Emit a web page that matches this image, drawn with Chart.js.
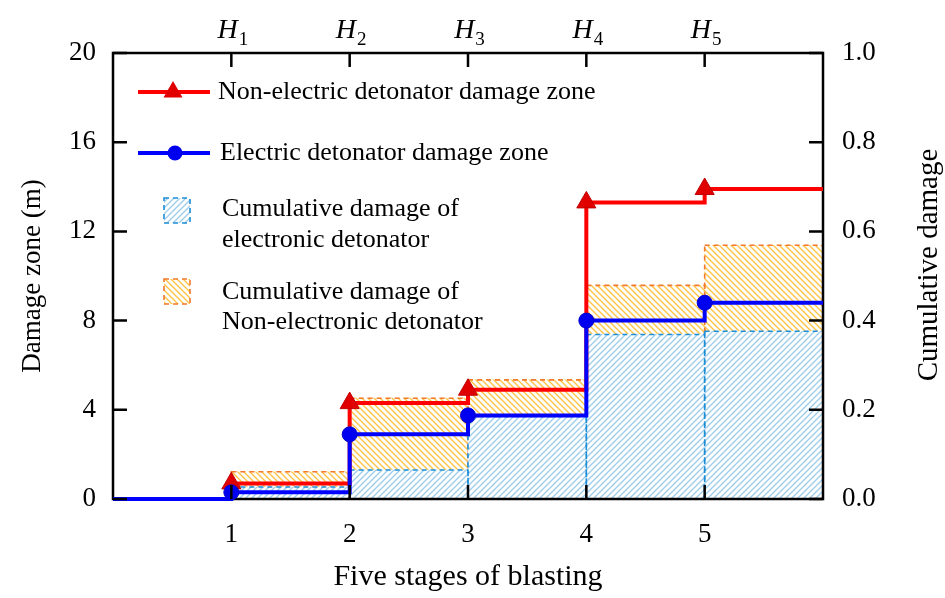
<!DOCTYPE html>
<html>
<head>
<meta charset="utf-8">
<script src="https://cdn.jsdelivr.net/npm/chart.js@4.4.1/dist/chart.umd.min.js"></script>
<style>
  html, body { margin: 0; padding: 0; background: #fff; }
</style>
</head>
<body>
<canvas id="blastChart" width="945" height="598"></canvas>
<script>
// blasting stages and the H labels shown above them
const stages = [1, 2, 3, 4, 5];
const stageNames = ['1', '2', '3', '4', '5'];

// damage zone extent (m), one value per stage
const nonElectricZone = [0.7, 4.3, 4.9, 13.3, 13.9];
const electricZone = [0.3, 2.9, 3.75, 8.0, 8.8];

// cumulative damage per stage (right axis)
const cumElectronic = [0.027, 0.065, 0.185, 0.369, 0.376];
const cumNonElectronic = [0.061, 0.226, 0.267, 0.479, 0.569];

const zoneTicks = [0, 4, 8, 12, 16, 20];
const damageTicks = [0, 0.2, 0.4, 0.6, 0.8, 1.0];

const SERIF = "'Liberation Serif', 'Times New Roman', serif";
Chart.defaults.font.family = SERIF;
Chart.defaults.color = '#000';

const canvas = document.getElementById('blastChart');
const ctx = canvas.getContext('2d');

function hatch(color, rising) {
  const s = 6;
  const tile = document.createElement('canvas');
  tile.width = s; tile.height = s;
  const g = tile.getContext('2d');
  g.fillStyle = '#fff';
  g.fillRect(0, 0, s, s);
  g.strokeStyle = color;
  g.lineWidth = 1.4;
  g.beginPath();
  if (rising) {
    g.moveTo(0, s); g.lineTo(s, 0);
    g.moveTo(-1, 1); g.lineTo(1, -1);
    g.moveTo(s - 1, s + 1); g.lineTo(s + 1, s - 1);
  } else {
    g.moveTo(0, 0); g.lineTo(s, s);
    g.moveTo(-1, s - 1); g.lineTo(1, s + 1);
    g.moveTo(s - 1, -1); g.lineTo(s + 1, 1);
  }
  g.stroke();
  return ctx.createPattern(tile, 'repeat');
}

const blueHatch = hatch('#9fcdea', true);
const orangeHatch = hatch('#ffc445', false);

// step lines: each stage value holds until the next stage, last one runs to the edge
const redPoints = stages.map((s, i) => ({ x: s, y: nonElectricZone[i] }));
redPoints.push({ x: 6, y: nonElectricZone[nonElectricZone.length - 1] });
const bluePoints = [{ x: 0, y: 0 }].concat(stages.map((s, i) => ({ x: s, y: electricZone[i] })));
bluePoints.push({ x: 6, y: electricZone[electricZone.length - 1] });

const datasets = [
  {
    type: 'line', label: 'Non-electric detonator damage zone', data: redPoints,
    yAxisID: 'y', stepped: 'before', order: 2, clip: false,
    borderColor: '#ff0000', borderWidth: 4,
    pointStyle: 'triangle', pointRadius: redPoints.map((p, i) => i < stages.length ? 11 : 0),
    pointBackgroundColor: '#e00000', pointBorderColor: '#c00000', pointBorderWidth: 1
  },
  {
    type: 'line', label: 'Electric detonator damage zone', data: bluePoints,
    yAxisID: 'y', stepped: 'before', order: 1, clip: false,
    borderColor: '#0000ff', borderWidth: 4,
    pointStyle: 'circle', pointRadius: bluePoints.map((p, i) => (i > 0 && i <= stages.length) ? 7.5 : 0),
    pointBackgroundColor: '#0000f0', pointBorderColor: '#0000cc', pointBorderWidth: 1
  },
  {
    type: 'bar', label: 'Cumulative damage of electronic detonator',
    data: stages.map((s, i) => ({ x: s + 0.5, y: cumElectronic[i] })),
    yAxisID: 'y2', order: 3, backgroundColor: blueHatch, borderWidth: 0,
    barPercentage: 1, categoryPercentage: 1, grouped: false,
    outline: '#1c8ed6', pattern: blueHatch
  },
  {
    type: 'bar', label: 'Cumulative damage of Non-electronic detonator',
    data: stages.map((s, i) => ({ x: s + 0.5, y: cumNonElectronic[i] })),
    yAxisID: 'y2', order: 4, backgroundColor: orangeHatch, borderWidth: 0,
    barPercentage: 1, categoryPercentage: 1, grouped: false,
    outline: '#f27a2a', pattern: orangeHatch
  }
];

function dashedBox(c, x, y, w, h, color) {
  c.save();
  c.strokeStyle = color;
  c.lineWidth = 1.6;
  c.setLineDash([5, 4]);
  c.strokeRect(x, y, w, h);
  c.restore();
}

// dashed outlines for the bars, and the frame just before the step lines go on top
const framePlugin = {
  id: 'framePlugin',
  afterDatasetDraw(chart, args) {
    const ds = chart.data.datasets[args.index];
    const c = chart.ctx;
    if (ds.type === 'bar') {
      args.meta.data.forEach(el => {
        const p = el.getProps(['x', 'y', 'base', 'width'], true);
        dashedBox(c, p.x - p.width / 2, p.y, p.width, p.base - p.y, ds.outline);
      });
    }
    if (args.index === 2) {
      const a = chart.chartArea;
      c.save();
      c.strokeStyle = '#000';
      c.lineWidth = 2.5;
      c.strokeRect(a.left, a.top, a.right - a.left, a.bottom - a.top);
      c.restore();
    }
  },
  afterDraw(chart) {
    const c = chart.ctx;
    const a = chart.chartArea;
    const { x, y, y2 } = chart.scales;
    const len = 14;
    c.save();
    c.strokeStyle = '#000';
    c.lineWidth = 2.5;
    c.beginPath();
    zoneTicks.forEach(v => {
      const py = y.getPixelForValue(v);
      c.moveTo(a.left, py); c.lineTo(a.left + len, py);
    });
    damageTicks.forEach(v => {
      const py = y2.getPixelForValue(v);
      c.moveTo(a.right, py); c.lineTo(a.right - len, py);
    });
    stages.forEach(v => {
      const px = x.getPixelForValue(v);
      c.moveTo(px, a.bottom); c.lineTo(px, a.bottom - len);
      c.moveTo(px, a.top); c.lineTo(px, a.top + len);
    });
    c.stroke();

    // H labels on the top edge
    c.fillStyle = '#000';
    c.textBaseline = 'alphabetic';
    c.textAlign = 'left';
    stages.forEach((v, i) => {
      const px = x.getPixelForValue(v);
      c.font = 'italic 28px ' + SERIF;
      const wH = c.measureText('H').width;
      c.font = '19px ' + SERIF;
      const wS = c.measureText(stageNames[i]).width;
      const x0 = px - (wH + wS) / 2 + 1;
      c.font = 'italic 28px ' + SERIF;
      c.fillText('H', x0, 38);
      c.font = '19px ' + SERIF;
      c.fillText(stageNames[i], x0 + wH + 1, 45);
    });

    // right axis title, read bottom to top
    c.save();
    c.translate(929, (a.top + a.bottom) / 2 - 11);
    c.rotate(-Math.PI / 2);
    c.textAlign = 'center';
    c.textBaseline = 'middle';
    c.font = '29px ' + SERIF;
    c.fillText('Cumulative damage', 0, 0);
    c.restore();

    // legend
    const L = a.left;
    c.font = '26px ' + SERIF;
    c.textBaseline = 'middle';
    c.textAlign = 'left';
    const red = chart.data.datasets[0], blue = chart.data.datasets[1];
    c.lineWidth = 4;
    c.strokeStyle = red.borderColor;
    c.beginPath(); c.moveTo(L + 25, 92); c.lineTo(L + 97, 92); c.stroke();
    c.fillStyle = red.pointBackgroundColor;
    c.beginPath();
    c.moveTo(L + 60, 92 - 11);
    c.lineTo(L + 60 + 9.5, 92 + 5.5);
    c.lineTo(L + 60 - 9.5, 92 + 5.5);
    c.closePath(); c.fill();
    c.strokeStyle = blue.borderColor;
    c.beginPath(); c.moveTo(L + 25, 153); c.lineTo(L + 97, 153); c.stroke();
    c.fillStyle = blue.pointBackgroundColor;
    c.beginPath(); c.arc(L + 62, 153, 7.5, 0, Math.PI * 2); c.fill();

    const blueBar = chart.data.datasets[2], orangeBar = chart.data.datasets[3];
    c.fillStyle = blueBar.pattern;
    c.fillRect(L + 51, 198, 26, 25);
    dashedBox(c, L + 51, 198, 26, 25, blueBar.outline);
    c.fillStyle = orangeBar.pattern;
    c.fillRect(L + 51, 279, 26, 25);
    dashedBox(c, L + 51, 279, 26, 25, orangeBar.outline);

    c.fillStyle = '#000';
    c.fillText('Non-electric detonator damage zone', L + 105, 92);
    c.fillText('Electric detonator damage zone', L + 107, 153);
    c.fillText('Cumulative damage of', L + 109, 209);
    c.fillText('electronic detonator', L + 109, 240);
    c.fillText('Cumulative damage of', L + 109, 292);
    c.fillText('Non-electronic detonator', L + 109, 322);
    c.restore();
  }
};

new Chart(ctx, {
  data: { datasets },
  options: {
    responsive: false,
    animation: false,
    devicePixelRatio: 1,
    layout: { padding: { top: 53, left: 0, right: 0, bottom: 0 } },
    plugins: { legend: { display: false }, tooltip: { enabled: false } },
    scales: {
      x: {
        type: 'linear', position: 'bottom', min: 0, max: 6, offset: false,
        afterFit: s => { s.height = 99; },
        grid: { display: false, drawTicks: false, offset: false },
        border: { display: false },
        ticks: {
          stepSize: 1, autoSkip: false, maxRotation: 0, padding: 20,
          font: { size: 27 },
          callback: v => stages.includes(v) ? String(v) : ''
        },
        title: { display: true, text: 'Five stages of blasting', font: { size: 30 }, padding: { top: 0, bottom: 3 } }
      },
      y: {
        type: 'linear', position: 'left', min: 0, max: 20,
        afterFit: s => { s.width = 113; },
        grid: { display: false, drawTicks: false },
        border: { display: false },
        ticks: { stepSize: 4, padding: 17, font: { size: 27 } },
        title: { display: true, text: 'Damage zone (m)', font: { size: 27 }, padding: { top: 17, bottom: 0 } }
      },
      y2: {
        type: 'linear', position: 'right', min: 0, max: 1,
        afterFit: s => { s.width = 122; },
        grid: { display: false, drawTicks: false },
        border: { display: false },
        ticks: { stepSize: 0.2, padding: 19, font: { size: 27 }, callback: v => v.toFixed(1) }
      }
    }
  },
  plugins: [framePlugin]
});
</script>
</body>
</html>
